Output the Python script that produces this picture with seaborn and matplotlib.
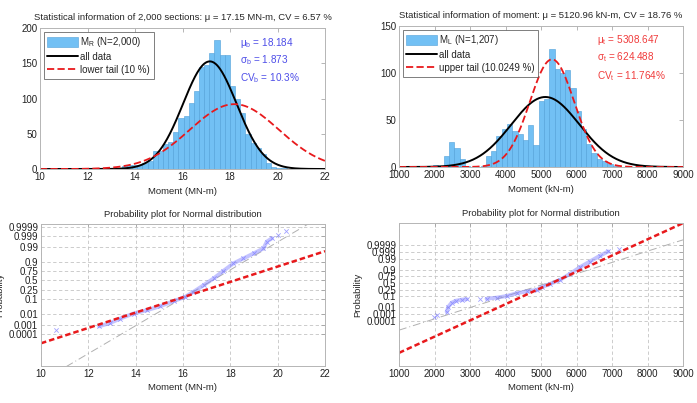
import numpy as np
import pandas as pd
import matplotlib
matplotlib.use("Agg")
import matplotlib.pyplot as plt
from matplotlib.patches import Patch
from matplotlib.lines import Line2D
import seaborn as sns
from statistics import NormalDist

# ---- resistance M_R (MN-m): histogram, 45 bins over the data range
mr_lo, mr_hi, mr_nbins = 10.63, 20.38, 45
mr_counts = [1, 0, 0, 0, 0, 0, 0, 0, 1, 0, 1, 2, 2, 4, 6,
             5, 6, 8, 12, 25, 26, 35, 38, 52, 73, 75, 93, 110, 145, 148,
             165, 183, 162, 162, 118, 100, 80, 50, 37, 30, 22, 8, 3, 1, 1]
mr_mu, mr_cv = 17.15, 6.57
mr_tail_mu, mr_tail_sd, mr_tail_peak = 18.184, 1.873, 92.0

# ---- load effect M_L (kN-m): histogram, 35 bins
ml_lo, ml_width, ml_nbins = 1962.0, 148.6, 35
ml_counts = [2, 0, 12, 27, 20, 9, 1, 0, 0, 1,
             12, 17, 33, 40, 46, 38, 35, 29, 45, 23,
             70, 72, 125, 104, 100, 103, 84, 60, 40, 25,
             15, 9, 6, 3, 1]
ml_mu, ml_cv = 5120.96, 18.76
ml_tail_mu, ml_tail_sd, ml_tail_peak = 5308.647, 624.488, 114.5

# ---- normal probability plots (moment, normal quantile)
pp_r_x = [12.46, 12.93, 13.35, 13.91, 14.47, 15.04, 15.60, 16.09, 16.44, 16.87,
          17.29, 17.71, 18.13, 18.55, 18.98, 19.40, 19.54, 19.75]
pp_r_z = [-3.19, -2.95, -2.65, -2.30, -2.07, -1.79, -1.44, -1.14, -0.79, -0.33,
          0.14, 0.67, 1.19, 1.53, 1.88, 2.23, 2.70, 2.93]
pp_r_out_x = [10.63, 20.03, 20.35]
pp_r_out_z = [-3.42, 3.16, 3.47]
ref_r_mu, ref_r_sd = 17.24, 1.03

pp_l1_x = [2341, 2388, 2482, 2604, 2763, 2904]
pp_l1_z = [-2.84, -2.35, -1.95, -1.75, -1.65, -1.59]
pp_l2_x = [3466, 3748, 4029, 4311, 4592, 4873, 5014, 5248, 5530, 5811,
           6092, 6374, 6655, 6890]
pp_l2_z = [-1.55, -1.45, -1.29, -1.02, -0.83, -0.69, -0.43, -0.10, 0.30, 0.89,
           1.55, 2.12, 2.68, 3.11]
pp_l_out_x = [1994, 2060, 3280, 7190]
pp_l_out_z = [-3.34, -3.17, -1.58, 3.37]
ref_l_mu, ref_l_sd = 5180.0, 897.0

prob_ticks = [0.0001, 0.001, 0.01, 0.1, 0.25, 0.5, 0.75, 0.9, 0.99, 0.999, 0.9999]
prob_labels = ["0.0001", "0.001", "0.01", "0.1", "0.25", "0.5", "0.75", "0.9",
               "0.99", "0.999", "0.9999"]

HIST = "#72c0f4"
HIST_EDGE = "#4f9fd8"
RED = "#e8191c"
PTS = "#7a7aff"

sns.set_style("white")
plt.rcParams["font.family"] = ["Liberation Sans", "DejaVu Sans"]
plt.rcParams["mathtext.default"] = "regular"
plt.rcParams["font.size"] = 6.8
FS = 6.8

fig = plt.figure(figsize=(6.97, 4.03), dpi=100)


def frame(ax):
    for s in ax.spines.values():
        s.set_color("#b5b5b5")
        s.set_linewidth(0.7)
    ax.tick_params(direction="in", top=True, right=True, length=3,
                   width=0.5, color="#999999", labelsize=7, pad=2,
                   labelcolor="#222222")


def histpanel(ax, lo, width, counts, fit_x, fit_all, fit_tail, legend_labels):
    n = len(counts)
    centers = lo + width * (np.arange(n) + 0.5)
    df = pd.DataFrame({"m": centers, "n": counts})
    sns.histplot(data=df, x="m", weights="n", binwidth=width,
                 binrange=(lo, lo + width * n), ax=ax, color=HIST,
                 alpha=1, edgecolor=HIST_EDGE, linewidth=0.4)
    sns.lineplot(x=fit_x, y=fit_all, ax=ax, color="black", lw=1.4)
    sns.lineplot(x=fit_x, y=fit_tail, ax=ax, color=RED, lw=1.3,
                 linestyle=(0, (4, 1.8)))
    handles = [Patch(facecolor=HIST, edgecolor=HIST_EDGE, lw=0.4),
               Line2D([], [], color="black", lw=1.4),
               Line2D([], [], color=RED, lw=1.3, ls=(0, (4, 1.8)))]
    leg = ax.legend(handles, legend_labels, loc="upper left", fontsize=7,
                    frameon=True, fancybox=False, handlelength=3.2,
                    handleheight=1.3, handletextpad=0.2, labelspacing=0.25,
                    borderpad=0.35, borderaxespad=0.4)
    leg.get_frame().set_edgecolor("#444444")
    leg.get_frame().set_linewidth(0.6)
    ax.set_ylabel("")
    frame(ax)


# ---------------- top left
ax1 = fig.add_axes([0.0574, 0.5806, 0.4089, 0.3499])
w_r = (mr_hi - mr_lo) / mr_nbins
xr = np.linspace(10, 22, 400)
sd_r = mr_mu * mr_cv / 100
scale_r = sum(mr_counts) * w_r
all_r = np.array([scale_r * NormalDist(mr_mu, sd_r).pdf(v) for v in xr])
tail_nd = NormalDist(mr_tail_mu, mr_tail_sd)
tail_r = np.array([mr_tail_peak * tail_nd.pdf(v) / tail_nd.pdf(mr_tail_mu) for v in xr])
histpanel(ax1, mr_lo, w_r, mr_counts, xr, all_r, tail_r,
          ["M$_R$ (N=2,000)", "all data", "lower tail (10 %)"])
ax1.set_xlim(10, 22)
ax1.set_ylim(0, 200)
ax1.set_xticks(range(10, 23, 2))
ax1.set_yticks(range(0, 201, 50))
ax1.set_xlabel("Moment (MN-m)", fontsize=FS, labelpad=4)
ax1.set_title("Statistical information of 2,000 sections: \u03bc = 17.15 MN-m, CV = 6.57 %",
              fontsize=FS, pad=6)
blue = "#4d4de8"
for yy, txt in [(0.895, "\u03bc$_b$ = 18.184"), (0.775, "\u03c3$_b$ = 1.873"),
                (0.648, "CV$_b$ = 10.3%")]:
    ax1.text(0.702, yy, txt, transform=ax1.transAxes, color=blue, fontsize=7.2,
             va="center", ha="left")

# ---------------- top right
ax2 = fig.add_axes([0.5725, 0.5856, 0.4075, 0.3499])
xl = np.linspace(1000, 9000, 400)
sd_l = ml_mu * ml_cv / 100
scale_l = sum(ml_counts) * ml_width
all_l = np.array([scale_l * NormalDist(ml_mu, sd_l).pdf(v) for v in xl])
tail_ndl = NormalDist(ml_tail_mu, ml_tail_sd)
tail_l = np.array([ml_tail_peak * tail_ndl.pdf(v) / tail_ndl.pdf(ml_tail_mu) for v in xl])
histpanel(ax2, ml_lo, ml_width, ml_counts, xl, all_l, tail_l,
          ["M$_L$ (N=1,207)", "all data", "upper tail (10.0249 %)"])
ax2.set_xlim(1000, 9000)
ax2.set_ylim(0, 150)
ax2.set_xticks(range(1000, 9001, 1000))
ax2.set_yticks(range(0, 151, 50))
ax2.set_xlabel("Moment (kN-m)", fontsize=FS, labelpad=4)
ax2.set_title("Statistical information of moment: \u03bc = 5120.96 kN-m, CV = 18.76 %",
              fontsize=FS, pad=6)
red_txt = "#f03c3c"
for yy, txt in [(0.898, "\u03bc$_t$ = 5308.647"), (0.778, "\u03c3$_t$ = 624.488"),
                (0.645, "CV$_t$ = 11.764%")]:
    ax2.text(0.697, yy, txt, transform=ax2.transAxes, color=red_txt, fontsize=7.2,
             va="center", ha="left")


# ---------------- probability plots
def probpanel(ax, segments, outliers, xlim, ylim, ref, tail, xticks, xlabel):
    zt = [NormalDist().inv_cdf(p) for p in prob_ticks]
    ax.set_yticks(zt)
    ax.set_yticklabels(prob_labels)
    ax.set_xticks(xticks)
    ax.grid(True, ls=(0, (4, 3)), color="#c4c4c4", lw=0.6)
    ax.set_axisbelow(True)
    xe = np.array(xlim, dtype=float)
    sns.lineplot(x=xe, y=(xe - ref[0]) / ref[1], ax=ax, color="#b0b0b0", lw=0.7,
                 linestyle=(0, (8, 3, 1, 3)))
    for sx, sz in segments:
        sns.lineplot(x=sx, y=sz, ax=ax, color=PTS, lw=2.8, alpha=0.45, sort=False)
        sns.scatterplot(x=sx, y=sz, ax=ax, color=PTS, marker="x", s=10,
                        linewidth=0.6, alpha=0.7)
    sns.scatterplot(x=outliers[0], y=outliers[1], ax=ax, color=PTS, marker="x",
                    s=10, linewidth=0.6, alpha=0.7)
    sns.lineplot(x=xe, y=(xe - tail[0]) / tail[1], ax=ax, color=RED, lw=1.8,
                 linestyle=(0, (2.2, 1.2)))
    ax.set_xlim(*xlim)
    ax.set_ylim(*ylim)
    ax.set_title("Probability plot for Normal distribution", fontsize=FS, pad=5)
    ax.set_xlabel(xlabel, fontsize=FS, labelpad=3)
    ax.set_ylabel("Probability", fontsize=FS)
    ax.yaxis.set_label_coords(-0.13, 0.5)
    frame(ax)


ax3 = fig.add_axes([0.0588, 0.0918, 0.4075, 0.3524])
probpanel(ax3, [(pp_r_x, pp_r_z)], (pp_r_out_x, pp_r_out_z), (10, 22),
          (-5.95, 3.93), (ref_r_mu, ref_r_sd), (mr_tail_mu, mr_tail_sd),
          range(10, 23, 2), "Moment (MN-m)")

ax4 = fig.add_axes([0.5725, 0.0918, 0.4075, 0.3548])
probpanel(ax4, [(pp_l1_x, pp_l1_z), (pp_l2_x, pp_l2_z)], (pp_l_out_x, pp_l_out_z),
          (1000, 9000), (-8.2, 5.92), (ref_l_mu, ref_l_sd),
          (ml_tail_mu, ml_tail_sd), range(1000, 9001, 1000), "Moment (kN-m)")

fig.savefig("out.png", dpi=100)
